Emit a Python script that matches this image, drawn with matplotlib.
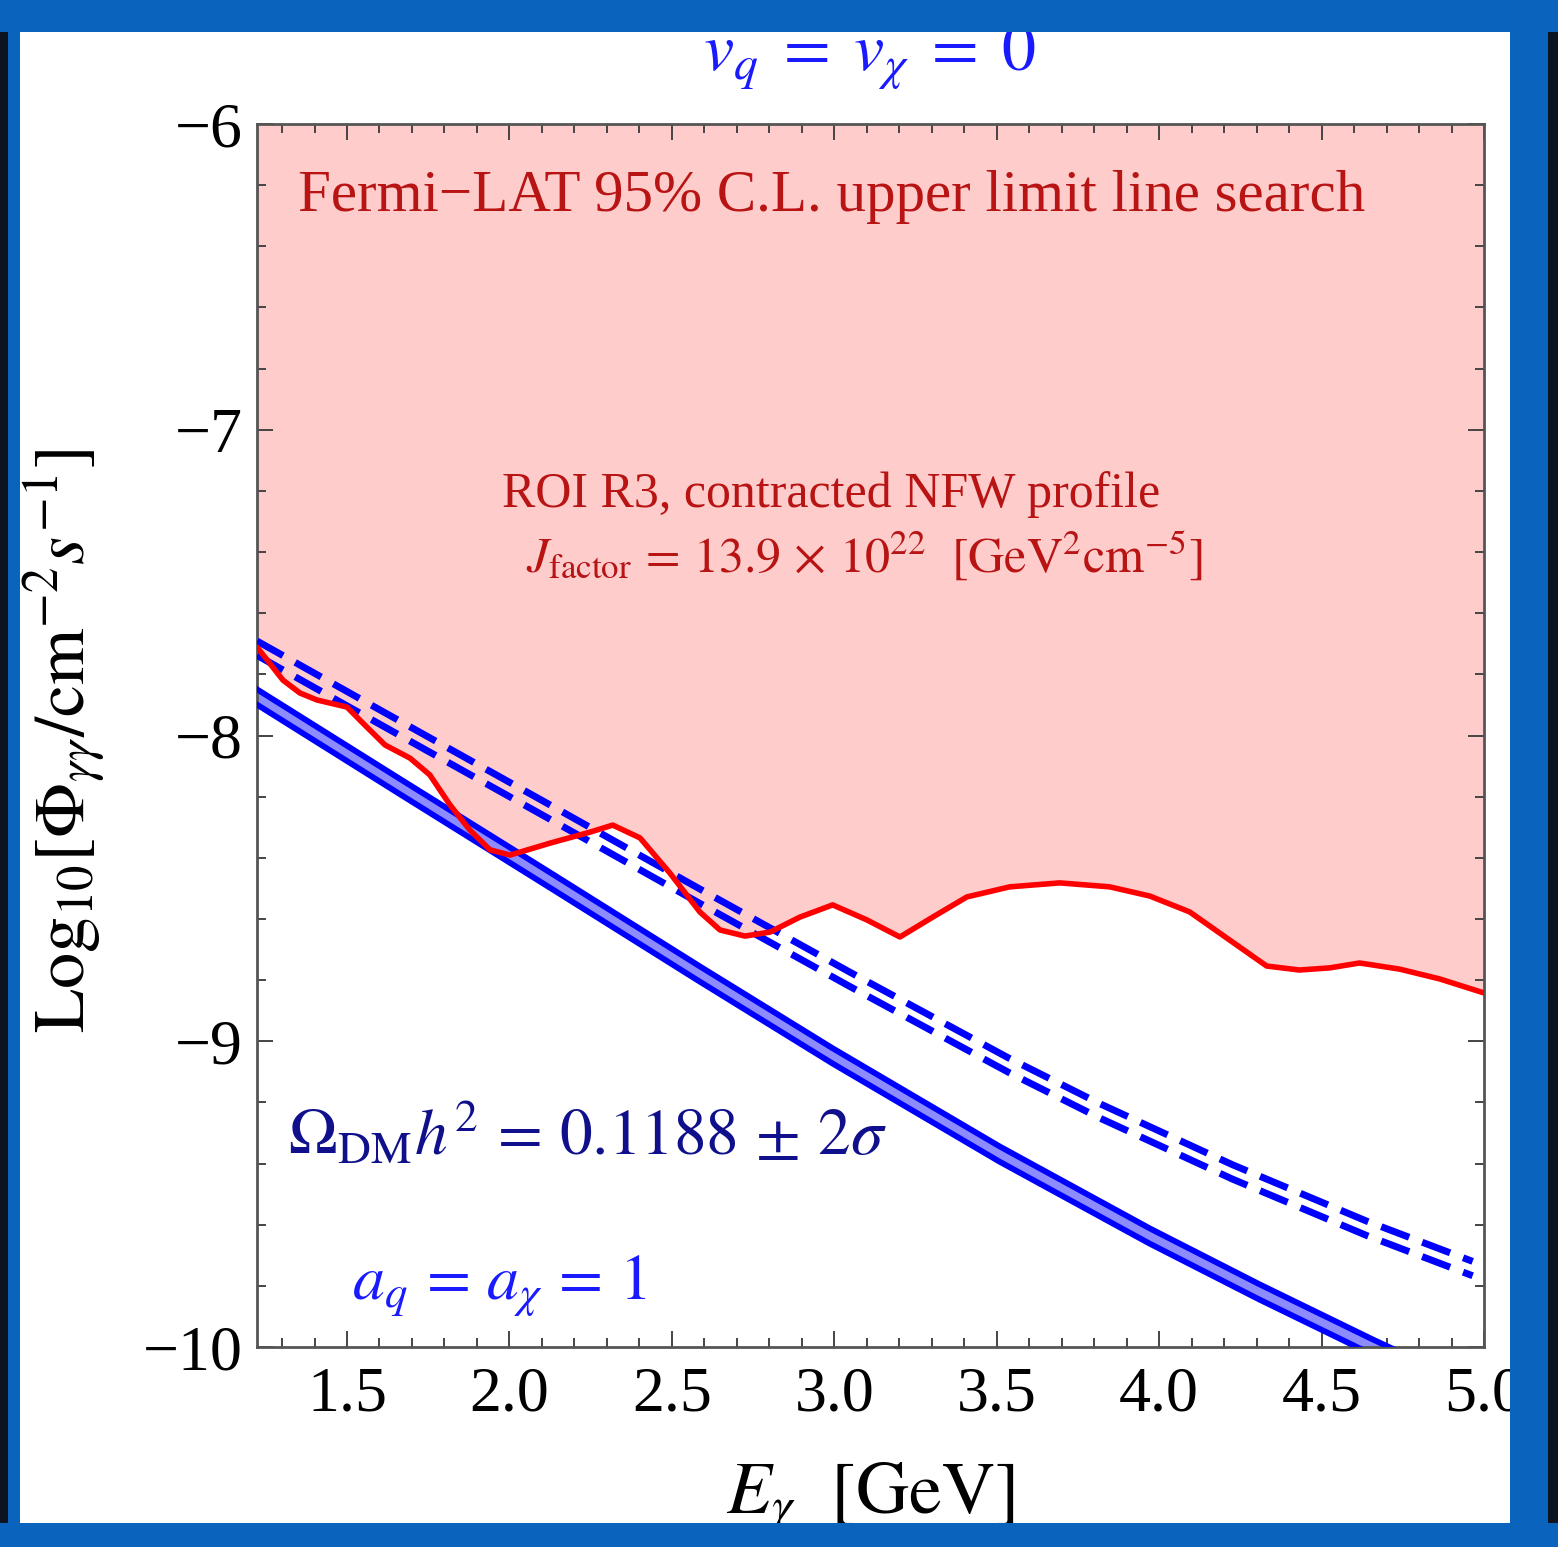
import numpy as np
import matplotlib
matplotlib.use('Agg')
import matplotlib.pyplot as plt
from matplotlib.patches import Rectangle
from matplotlib.ticker import MultipleLocator

plt.rcParams['font.family'] = ['Liberation Serif', 'DejaVu Serif']
plt.rcParams['mathtext.fontset'] = 'stix'

# Fermi-LAT 95% C.L. upper limit (red curve)
E_fermi = [1.223, 1.303, 1.355, 1.408, 1.500, 1.555, 1.617, 1.694, 1.755, 1.817,
           1.878, 1.940, 2.002, 2.125, 2.248, 2.318, 2.402, 2.494, 2.586, 2.648,
           2.725, 2.802, 2.894, 2.995, 3.100, 3.202, 3.303, 3.408, 3.540, 3.694,
           3.848, 3.971, 4.094, 4.217, 4.331, 4.432, 4.525, 4.617, 4.740, 4.863, 5.000]
logphi_fermi = [-7.711, -7.819, -7.861, -7.884, -7.907, -7.966, -8.031, -8.074, -8.129, -8.227,
                -8.309, -8.374, -8.391, -8.352, -8.316, -8.293, -8.335, -8.450, -8.577, -8.636,
                -8.656, -8.643, -8.594, -8.554, -8.603, -8.659, -8.594, -8.528, -8.495, -8.482,
                -8.495, -8.525, -8.577, -8.669, -8.754, -8.767, -8.760, -8.744, -8.764, -8.796, -8.842]

# relic density band (solid, two edges)
E_band = [1.223, 1.663, 2.125, 2.586, 2.995, 3.509, 3.971, 4.309, 4.657, 4.802]
band_hi = [-7.849, -8.142, -8.448, -8.755, -9.023, -9.344, -9.612, -9.795, -9.975, -10.047]
band_lo = [-7.899, -8.192, -8.498, -8.805, -9.073, -9.394, -9.662, -9.845, -10.025, -10.097]

# dashed lines
E_dash = [1.223, 1.663, 2.125, 2.586, 3.048, 3.537, 3.817, 4.226, 4.638, 4.965]
dash_hi = [-7.691, -7.953, -8.227, -8.502, -8.774, -9.055, -9.204, -9.404, -9.588, -9.720]
dash_lo = [-7.738, -8.000, -8.274, -8.549, -8.821, -9.102, -9.251, -9.451, -9.635, -9.767]

xticks = [1.5, 2.0, 2.5, 3.0, 3.5, 4.0, 4.5, 5.0]
xticklabels = ['1.5', '2.0', '2.5', '3.0', '3.5', '4.0', '4.5', '5.0']
yticks = [-10, -9, -8, -7, -6]
yticklabels = ['\u221210', '\u22129', '\u22128', '\u22127', '\u22126']

fig = plt.figure(figsize=(15.58, 15.47), dpi=100, facecolor='white')
ax = fig.add_axes([0.16496, 0.12928, 0.78755, 0.79056])

ax.fill_between(E_fermi, logphi_fermi, -6, color='#ffcccc', lw=0, zorder=1)
ax.plot(E_fermi, logphi_fermi, color='#ff0000', lw=4.0, zorder=4,
        solid_joinstyle='round', solid_capstyle='round')

ax.fill_between(E_band, band_lo, band_hi, color='#8c8cff', lw=0, zorder=2)
ax.plot(E_band, band_hi, color='#0000ff', lw=4.2, zorder=3, solid_joinstyle='round')
ax.plot(E_band, band_lo, color='#0000ff', lw=4.2, zorder=3, solid_joinstyle='round')

ax.plot(E_dash, dash_hi, color='#0000ff', lw=5.0, ls=(0, (4.3, 2.0)), zorder=3)
ax.plot(E_dash, dash_lo, color='#0000ff', lw=5.0, ls=(0, (4.3, 2.0)), zorder=3)

ax.set_xlim(1.223, 5.0)
ax.set_ylim(-10, -6)
ax.set_xticks(xticks)
ax.set_xticklabels(xticklabels)
ax.set_yticks(yticks)
ax.set_yticklabels(yticklabels)
ax.xaxis.set_minor_locator(MultipleLocator(0.1))
ax.yaxis.set_minor_locator(MultipleLocator(0.2))
ax.tick_params(which='both', direction='in', top=True, right=True, color='#444444', width=1.4)
ax.tick_params(which='major', length=11.5, labelsize=46)
ax.tick_params(which='minor', length=6.5)
ax.tick_params(axis='x', which='major', pad=14)
ax.tick_params(axis='y', which='major', pad=10)
for s in ax.spines.values():
    s.set_color('#555555')
    s.set_linewidth(2.0)

ax.set_xlabel(r'$E_\gamma\ \ [\mathrm{GeV}]$', fontsize=53)
ax.xaxis.set_label_coords(0.5, -0.093)
ax.set_ylabel(r'$\mathrm{Log}_{10}[\Phi_{\gamma\gamma}/\mathrm{cm}^{-2}s^{-1}]$', fontsize=52)
ax.yaxis.set_label_coords(-0.121, 0.496)

ax.text(2.992, -6.285, 'Fermi\u2212LAT 95% C.L. upper limit line search',
        color='#b81414', fontsize=42.5, ha='center', va='baseline', zorder=6)
ax.text(2.989, -7.253, 'ROI R3, contracted NFW profile',
        color='#b81414', fontsize=36, ha='center', va='baseline', zorder=6)
ax.text(3.091, -7.465, r'$J_{\mathrm{factor}}\,=\,13.9\,\times\,10^{22}\ \ [\mathrm{GeV}^2\mathrm{cm}^{-5}]$',
        color='#b81414', fontsize=36, ha='center', va='baseline', zorder=6)
ax.text(1.318, -9.372, r'$\Omega_{\mathrm{DM}}h^2\,=\,0.1188\,\pm\,2\sigma$',
        color='#10108c', fontsize=47, ha='left', va='baseline', zorder=6)
ax.text(1.515, -9.846, r'$a_q\,=\,a_\chi\,=\,1$',
        color='#1a1aff', fontsize=46, ha='left', va='baseline', zorder=6)

fig.text(0.5584, 0.9541, r'$v_q\;=\;v_\chi\;=\;0$', color='#1a1aff', fontsize=49,
         ha='center', va='baseline')

# painted frame around the picture
W, H = 1558.0, 1547.0
frame_blue = '#0a64be'
for (x0, y0, w, h, c) in [
        (0, 0, 20, H, frame_blue), (0, 0, 8, H, '#0c1420'),
        (1510, 0, 48, H, frame_blue), (1548, 0, 10, H, '#0c1420'),
        (0, H - 32, W, 32, frame_blue), (0, 0, W, 24, frame_blue)]:
    fig.add_artist(Rectangle((x0 / W, y0 / H), w / W, h / H, transform=fig.transFigure,
                             facecolor=c, edgecolor='none', zorder=100))

fig.savefig('out.png', dpi=100, facecolor=fig.get_facecolor())
